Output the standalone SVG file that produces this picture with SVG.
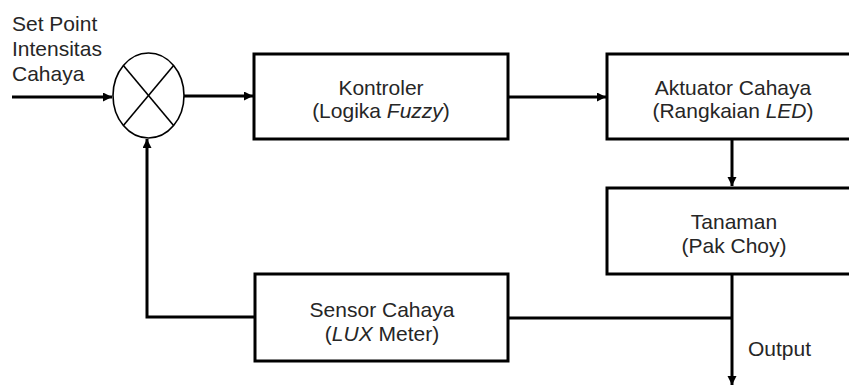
<svg xmlns="http://www.w3.org/2000/svg" width="849" height="388" viewBox="0 0 849 388">
  <style>
    .box { fill: #fff; stroke: #000; stroke-width: 3; }
    .line { fill: none; stroke: #000; stroke-width: 3; }
    .thin { fill: none; stroke: #000; stroke-width: 1.6; }
    text { font-family: "Liberation Sans", Arial, sans-serif; font-size: 21px; fill: #262626; }
    .c { text-anchor: middle; }
  </style>
  <defs>
    <marker id="arr" markerUnits="userSpaceOnUse" markerWidth="10" markerHeight="10" refX="9" refY="4.5" orient="auto">
      <path d="M0,0 L9,4.5 L0,9 z" fill="#000"/>
    </marker>
  </defs>
  <rect width="849" height="388" fill="#fff"/>

  <g id="connectors">
    <line class="line" x1="12" y1="97" x2="112" y2="97" marker-end="url(#arr)"/>
    <line class="line" x1="184" y1="96" x2="253" y2="96" marker-end="url(#arr)"/>
    <line class="line" x1="508" y1="97" x2="606" y2="97" marker-end="url(#arr)"/>
    <line class="line" x1="732" y1="139" x2="732" y2="186" marker-end="url(#arr)"/>
    <line class="line" x1="732" y1="274" x2="732" y2="385" marker-end="url(#arr)"/>
    <line class="line" x1="508" y1="318" x2="732" y2="318"/>
    <polyline class="line" points="255,317 147,317 147,139" marker-end="url(#arr)"/>
  </g>

  <g id="summing">
    <ellipse class="thin" cx="148.5" cy="95.5" rx="35.5" ry="42.5"/>
    <line class="thin" x1="123.4" y1="65.4" x2="173.6" y2="125.6"/>
    <line class="thin" x1="173.6" y1="65.4" x2="123.4" y2="125.6"/>
  </g>

  <g id="setpoint">
    <text x="12" y="31">Set Point</text>
    <text x="12" y="56">Intensitas</text>
    <text x="12" y="81">Cahaya</text>
  </g>

  <g id="kontroler">
    <rect class="box" x="254" y="54" width="254" height="85"/>
    <text class="c" x="381" y="95">Kontroler</text>
    <text class="c" x="381" y="118">(Logika <tspan font-style="italic">Fuzzy</tspan>)</text>
  </g>

  <g id="aktuator">
    <rect class="box" x="607" y="54" width="260" height="85"/>
    <text class="c" x="733" y="95">Aktuator Cahaya</text>
    <text class="c" x="733" y="118">(Rangkaian <tspan font-style="italic">LED</tspan>)</text>
  </g>

  <g id="tanaman">
    <rect class="box" x="607" y="188" width="260" height="86"/>
    <text class="c" x="734" y="229">Tanaman</text>
    <text class="c" x="734" y="253">(Pak Choy)</text>
  </g>

  <g id="sensor">
    <rect class="box" x="255" y="274" width="253" height="87"/>
    <text class="c" x="382" y="317">Sensor Cahaya</text>
    <text class="c" x="382" y="341">(<tspan font-style="italic">LUX</tspan> Meter)</text>
  </g>

  <g id="output">
    <text x="748" y="356">Output</text>
  </g>
</svg>
